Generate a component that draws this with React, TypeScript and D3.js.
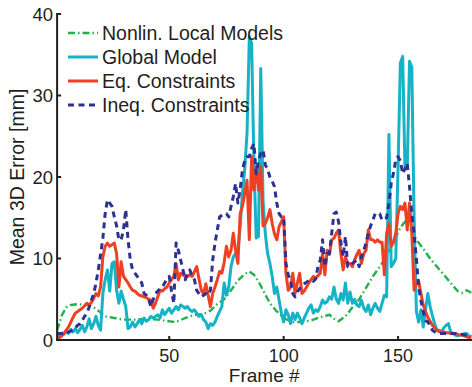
import React from "react";
import * as d3 from "d3";

const W = 472;
const H = 387;

const seriesNames = ["Nonlin. Local Models", "Global Model", "Eq. Constraints", "Ineq. Constraints"];
const xTicks = [50, 100, 150];
const yTicks = [0, 10, 20, 30, 40];

// Nonlinear local models: [frame, error]
const nonlinData: [number, number][] = [
  [1, 1.2], [2, 2.0], [3, 3.0], [5, 4.0], [7, 4.3], [10, 4.4], [14, 4.3], [17, 4.0], [19, 3.6],
  [22, 2.9], [26, 2.7], [30, 2.5], [35, 2.5], [40, 2.6], [45, 2.5], [50, 2.3], [53, 2.2], [57, 2.7],
  [61, 3.1], [65, 3.2], [68, 3.6], [71, 4.4], [74, 5.0], [77, 6.1], [80, 7.3], [83, 8.1], [85, 8.4],
  [87, 8.0], [89, 7.2], [91, 6.1], [94, 4.5], [97, 3.5], [100, 2.7], [104, 2.2], [108, 2.2], [112, 2.4],
  [116, 2.8], [120, 3.1], [122, 2.6], [124, 2.3], [127, 2.9], [130, 4.0], [133, 5.0], [136, 6.4],
  [139, 7.8], [142, 9.0], [145, 10.3], [148, 12.0], [151, 13.8], [153, 14.5], [155, 13.8], [158, 12.3],
  [161, 11.2], [164, 10.0], [167, 9.0], [170, 8.0], [173, 7.0], [176, 6.0], [178, 5.8], [180, 6.1], [182, 5.8],
];

// Per-frame values, frames 1..182
const globalValues = [
  0.6, 0.5, 0.8, 0.7, 1.0, 0.8, 1.3, 1.0, 1.4, 0.9,
  1.3, 1.8, 1.0, 1.6, 2.6, 1.4, 2.0, 2.9, 1.8, 1.2,
  5.7, 7.4, 8.6, 6.0, 9.4, 9.6, 6.1, 4.5, 6.0, 5.0,
  4.1, 1.4, 1.6, 2.2, 1.6, 2.0, 2.5, 2.0, 2.7, 2.3,
  2.5, 2.9, 2.7, 2.9, 3.1, 2.7, 3.7, 3.1, 3.5, 3.9,
  3.3, 3.7, 4.1, 3.7, 4.3, 4.1, 3.9, 4.1, 3.7, 3.5,
  3.7, 3.3, 2.9, 3.1, 2.5, 2.2, 1.4, 2.0, 1.8, 2.2,
  2.9, 3.5, 4.1, 7.0, 5.5, 6.5, 9.0, 10.2, 10.6, 11.0,
  13.9, 18.0, 21.0, 25.4, 37.2, 36.4, 22.0, 12.5, 12.7, 33.3,
  17.0, 13.0, 10.6, 9.4, 7.8, 5.7, 6.5, 4.9, 3.3, 2.2,
  3.7, 3.1, 2.0, 3.3, 2.5, 3.3, 2.7, 2.0, 2.7, 3.3,
  3.9, 4.3, 3.3, 3.7, 3.5, 4.1, 4.9, 4.5, 4.7, 5.3,
  5.0, 6.5, 5.0, 4.5, 5.7, 4.9, 7.0, 4.5, 5.9, 4.5,
  5.0, 4.3, 4.1, 4.9, 3.9, 3.5, 4.3, 3.1, 3.9, 4.5,
  3.9, 3.5, 4.5, 5.5, 5.3, 25.2, 9.0, 9.4, 10.0, 21.3,
  34.0, 34.8, 21.3, 21.0, 34.2, 33.5, 15.0, 3.5, 2.2, 3.7,
  1.6, 3.7, 5.7, 4.1, 3.0, 2.0, 1.2, 1.2, 1.0, 1.5,
  1.8, 2.0, 1.0, 0.8, 0.6, 0.5, 0.6, 0.6, 0.8, 0.8,
  0.5, 0.4,
];

const eqValues = [
  0.2, 0.3, 0.5, 0.8, 1.2, 1.6, 2.2, 2.8, 3.3, 3.5,
  3.7, 3.9, 4.2, 4.5, 4.3, 4.6, 5.1, 5.7, 5.4, 6.5,
  10.2, 11.5, 11.9, 11.5, 11.7, 11.9, 10.6, 6.5, 9.6, 7.8,
  7.4, 7.0, 6.5, 6.1, 6.0, 5.7, 5.5, 5.4, 5.3, 5.2,
  5.0, 4.9, 3.9, 4.5, 5.3, 6.1, 6.0, 6.3, 6.5, 7.0,
  7.4, 7.8, 9.4, 7.4, 8.2, 8.0, 7.8, 7.8, 8.0, 7.8,
  8.4, 9.0, 7.5, 6.1, 5.7, 6.9, 5.5, 4.1, 5.7, 6.5,
  7.4, 8.4, 8.2, 9.5, 11.5, 10.2, 11.0, 13.1, 11.0, 9.4,
  15.5, 16.4, 18.0, 19.6, 12.3, 22.5, 18.4, 21.3, 18.4, 21.3,
  14.0, 14.3, 15.0, 16.0, 14.3, 13.0, 12.3, 13.9, 14.5, 15.1,
  8.2, 6.1, 6.5, 8.2, 5.7, 7.0, 8.2, 5.7, 6.0, 6.5,
  7.0, 7.4, 7.8, 7.6, 7.9, 8.2, 10.6, 8.0, 11.0, 10.5,
  12.3, 12.5, 13.1, 13.5, 10.6, 8.6, 10.2, 9.4, 9.4, 9.0,
  9.8, 10.5, 11.0, 9.4, 10.6, 11.0, 13.5, 12.3, 12.3, 12.0,
  12.3, 12.0, 12.0, 8.0, 13.1, 14.3, 11.5, 12.0, 13.1, 15.5,
  16.4, 16.0, 16.8, 13.5, 16.8, 13.1, 6.1, 7.0, 7.2, 5.7,
  4.3, 3.5, 2.8, 2.3, 1.8, 1.5, 1.2, 1.0, 1.0, 1.0,
  0.9, 0.9, 0.8, 0.8, 0.8, 0.7, 0.6, 0.6, 0.5, 0.4,
  0.3, 0.3,
];

const ineqValues = [
  0.8, 0.8, 0.8, 0.9, 0.8, 1.0, 1.1, 1.2, 1.5, 1.8,
  2.0, 2.4, 2.9, 3.3, 4.0, 4.9, 5.7, 7.0, 8.6, 10.5,
  12.5, 15.5, 17.2, 16.8, 16.4, 15.1, 14.0, 12.3, 12.3, 13.5,
  16.0, 12.3, 9.8, 8.6, 8.2, 7.8, 7.4, 7.0, 5.7, 5.5,
  5.0, 4.1, 5.0, 5.7, 6.0, 6.3, 6.5, 7.0, 7.5, 7.8,
  6.0, 4.5, 11.9, 11.0, 9.8, 8.6, 7.4, 8.2, 8.6, 7.8,
  7.4, 6.1, 5.7, 5.3, 5.5, 5.7, 5.5, 6.1, 9.8, 11.9,
  13.5, 15.1, 15.3, 15.5, 15.5, 15.1, 16.4, 17.6, 19.2, 16.8,
  18.5, 20.9, 22.0, 22.5, 22.5, 23.5, 24.1, 20.4, 22.0, 22.9,
  23.3, 21.5, 20.9, 20.0, 19.5, 18.8, 16.8, 15.5, 15.1, 15.1,
  9.4, 8.0, 7.4, 5.7, 5.3, 5.9, 6.3, 6.7, 6.9, 7.1,
  7.3, 7.4, 7.2, 7.5, 9.0, 9.8, 12.3, 9.0, 10.6, 10.6,
  13.1, 15.5, 15.7, 14.5, 12.0, 10.2, 12.7, 9.0, 9.0, 9.4,
  9.6, 9.8, 9.0, 10.2, 11.0, 11.9, 13.1, 14.0, 14.7, 15.5,
  15.5, 15.5, 14.7, 14.9, 15.0, 16.8, 19.2, 20.5, 22.1, 22.5,
  22.0, 20.4, 21.0, 21.7, 18.8, 15.5, 13.0, 10.0, 6.5, 4.8,
  3.5, 2.4, 2.2, 1.8, 1.2, 1.0, 0.9, 0.8, 0.8, 0.8,
  0.8, 0.8, 0.8, 0.8, 0.8, 0.7, 0.7, 0.7, 0.6, 0.6,
  0.5, 0.5,
];

const FONT = "'Liberation Sans', Arial, Helvetica, sans-serif";
const TEXT = "#231f20";

const COLORS = ["#22b24c", "#16b2c6", "#ee4124", "#2e3192"];
const WIDTHS = [2.4, 3, 3, 3];
const DASHES = ["7,3,1.5,3", "none", "none", "6,4.5"];

export default function App() {
  const x = d3.scaleLinear().domain([1, 182]).range([57.1, 471.3]);
  const y = d3.scaleLinear().domain([0, 40]).range([340, 14]);

  const line = d3
    .line<[number, number]>()
    .x((d) => x(d[0]))
    .y((d) => y(d[1]));

  const toPairs = (vals: number[]): [number, number][] => vals.map((v, i) => [i + 1, v]);

  const series: [number, number][][] = [
    nonlinData,
    toPairs(globalValues),
    toPairs(eqValues),
    toPairs(ineqValues),
  ];

  const x0 = x.range()[0];
  const x1 = x.range()[1];
  const yBase = y(0);
  const yTop = y(40);

  const legendRows = [33, 57, 81, 105];

  return (
    <svg
      width={W}
      height={H}
      style={{ position: "absolute", left: 0, top: 0, background: "#fff" }}
      fontFamily={FONT}
    >
      <rect x={0} y={0} width={W} height={H} fill="#fff" />
      {series.map((data, i) => (
        <path
          key={i}
          d={line(data) || ""}
          fill="none"
          stroke={COLORS[i]}
          strokeWidth={WIDTHS[i]}
          strokeDasharray={DASHES[i]}
          strokeLinejoin="round"
        />
      ))}
      {/* axes */}
      <line x1={x0} x2={x0} y1={yTop - 1} y2={yBase + 1} stroke={TEXT} strokeWidth={2} />
      <line x1={x0 - 1} x2={x1 + 1} y1={yBase} y2={yBase} stroke={TEXT} strokeWidth={2} />
      {yTicks.map((t) => (
        <g key={"y" + t}>
          <line x1={x0} x2={x0 + 4} y1={y(t)} y2={y(t)} stroke={TEXT} strokeWidth={2} />
          <text
            x={x0 - 4}
            y={y(t)}
            dy="0.36em"
            textAnchor="end"
            fontSize={18.5}
            fill={TEXT}
          >
            {t}
          </text>
        </g>
      ))}
      {xTicks.map((t) => (
        <g key={"x" + t}>
          <line x1={x(t)} x2={x(t)} y1={yBase} y2={yBase - 4} stroke={TEXT} strokeWidth={2} />
          <text x={x(t)} y={362} textAnchor="middle" fontSize={18} fill={TEXT}>
            {t}
          </text>
        </g>
      ))}
      <text x={(x0 + x1) / 2} y={382} textAnchor="middle" fontSize={19} fill={TEXT}>
        Frame #
      </text>
      <text
        transform={`translate(24, ${(yTop + yBase) / 2}) rotate(-90)`}
        textAnchor="middle"
        fontSize={19.5}
        fill={TEXT}
      >
        Mean 3D Error [mm]
      </text>
      {/* legend */}
      {seriesNames.map((name, i) => (
        <g key={name}>
          <line
            x1={68}
            x2={98}
            y1={legendRows[i]}
            y2={legendRows[i]}
            stroke={COLORS[i]}
            strokeWidth={WIDTHS[i]}
            strokeDasharray={DASHES[i]}
          />
          <text x={102} y={legendRows[i] + 7} fontSize={19.5} fill={TEXT}>
            {name}
          </text>
        </g>
      ))}
    </svg>
  );
}
